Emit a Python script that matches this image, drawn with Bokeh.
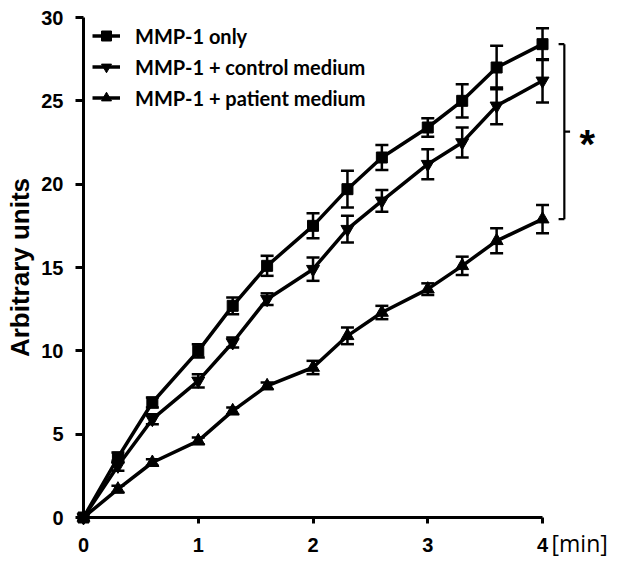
import numpy as np
from bokeh.plotting import figure
from bokeh.models import (ColumnDataSource, Whisker, TeeHead, Legend, LegendItem,
                          Label, Range1d, FixedTicker)
from bokeh.embed import file_html
from bokeh.resources import INLINE

# ---- data ----
time_min = [0, 0.3, 0.6, 1.0, 1.3, 1.6, 2.0, 2.3, 2.6, 3.0, 3.3, 3.6, 4.0]
mmp_only = [0, 3.6, 6.9, 10.0, 12.7, 15.1, 17.5, 19.7, 21.6, 23.4, 25.0, 27.0, 28.4]
mmp_only_err = [0, 0.3, 0.3, 0.4, 0.5, 0.6, 0.75, 1.1, 0.75, 0.55, 1.0, 1.3, 0.95]
control = [0, 3.1, 5.9, 8.2, 10.5, 13.1, 14.9, 17.3, 19.0, 21.2, 22.5, 24.7, 26.2]
control_err = [0, 0.3, 0.3, 0.4, 0.3, 0.35, 0.7, 0.8, 0.65, 0.9, 0.9, 1.1, 1.3]
patient = [0, 1.7, 3.3, 4.6, 6.4, 7.9, 9.0, 10.9, 12.3, 13.7, 15.1, 16.6, 17.9]
patient_err = [0, 0.2, 0.2, 0.2, 0.2, 0.2, 0.4, 0.5, 0.4, 0.35, 0.55, 0.75, 0.85]

series_labels = ["MMP-1 only", "MMP-1 + control medium", "MMP-1 + patient medium"]
x_ticks = [0, 1, 2, 3, 4]
y_ticks = [0, 5, 10, 15, 20, 25, 30]
x_unit = "[min]"
y_title = "Arbitrary units"
signif = "*"

# frame covers the whole canvas; axes are pinned at 0 so nothing is clipped
p = figure(width=616, height=560, output_backend="svg", toolbar_location=None,
           x_range=Range1d(-0.7233, 4.601), y_range=Range1d(-2.58, 31.02),
           min_border_left=0, min_border_right=5, min_border_top=0, min_border_bottom=0)
p.outline_line_color = None
p.grid.visible = False
p.background_fill_color = "white"

TICK_FONT = "Liberation Sans"
for ax in (p.xaxis[0], p.yaxis[0]):
    ax.axis_line_width = 3
    ax.axis_line_color = "black"
    ax.major_tick_line_width = 3
    ax.major_tick_line_color = "black"
    ax.minor_tick_line_color = None
    ax.major_tick_in = 0
    ax.major_label_text_font = TICK_FONT
    ax.major_label_text_font_style = "bold"
    ax.major_label_text_font_size = "20px"
    ax.major_label_text_color = "black"
    ax.fixed_location = 0

xa = p.xaxis[0]
xa.ticker = FixedTicker(ticks=x_ticks)
xa.bounds = (0, 4)
xa.major_tick_out = 6
xa.major_label_standoff = 14

ya = p.yaxis[0]
ya.ticker = FixedTicker(ticks=y_ticks)
ya.bounds = (0, 30)
ya.major_tick_out = 8
ya.major_label_standoff = 12
ya.axis_label = y_title
ya.axis_label_text_font = TICK_FONT
ya.axis_label_text_font_style = "bold"
ya.axis_label_text_font_size = "26px"
ya.axis_label_text_color = "black"
ya.axis_label_standoff = 3

markers = ["square", "inverted_triangle", "triangle"]
msizes = [11, 13, 13]
series = [(mmp_only, mmp_only_err), (control, control_err), (patient, patient_err)]
items = []
for (vals, errs), mk, ms, lab in zip(series, markers, msizes, series_labels):
    v = np.array(vals); e = np.array(errs)
    src = ColumnDataSource(dict(x=time_min, y=vals, upper=v + e, lower=v - e))
    ln = p.line("x", "y", source=src, line_color="black", line_width=3.5)
    sc = p.scatter("x", "y", source=src, marker=mk, size=ms, fill_color="black",
                   line_color="black")
    w = Whisker(source=src, base="x", upper="upper", lower="lower",
                line_color="black", line_width=2.5,
                upper_head=TeeHead(size=13, line_width=2.5, line_color="black"),
                lower_head=TeeHead(size=13, line_width=2.5, line_color="black"))
    p.add_layout(w)
    items.append(LegendItem(label=lab, renderers=[ln, sc]))

legend = Legend(items=items, location=(92, 450), margin=0, padding=0,
                spacing=6, glyph_width=28, glyph_height=25, label_height=25,
                label_standoff=15, border_line_color=None, background_fill_alpha=0,
                label_text_font="Lato", label_text_font_style="bold",
                label_text_font_size="20px", label_text_color="black")
p.add_layout(legend)

# significance bracket between the final values of top and bottom series
bx, bl, br = 4.19, 4.14, 4.24
top_v = mmp_only[-1]
bot_v = patient[-1]
mid_v = (top_v + bot_v) / 2
p.segment(x0=[bx, bl, bl, bx], y0=[top_v, top_v, bot_v, mid_v],
          x1=[bx, bx, bx, br], y1=[bot_v, top_v, bot_v, mid_v],
          line_color="black", line_width=2.2)
p.add_layout(Label(x=4.39, y=mid_v, text=signif, text_font="Liberation Sans",
                   text_font_style="bold", text_font_size="40px", text_color="black",
                   text_align="center", text_baseline="middle", y_offset=-12))

p.add_layout(Label(x=4.0, y=-1.55, x_offset=9, text=x_unit, text_font="Open Sans",
                   text_font_size="23px", text_color="black",
                   text_align="left", text_baseline="middle"))

open("out.html", "w").write(file_html(p, INLINE))
